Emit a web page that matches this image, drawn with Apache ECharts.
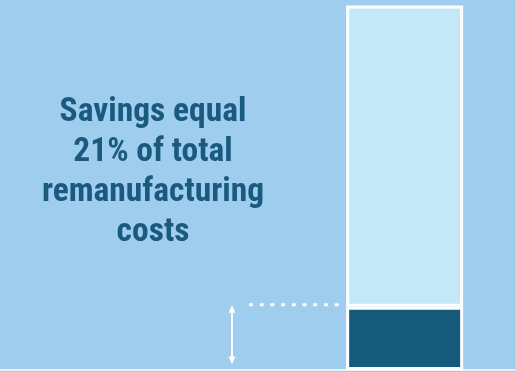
<!DOCTYPE html>
<html>
<head>
<meta charset="utf-8">
<script src="https://cdn.jsdelivr.net/npm/echarts@6/dist/echarts.min.js"></script>
<style>
html,body{margin:0;padding:0;background:#9ecdee;}
#c{width:515px;height:372px;}
</style>
</head>
<body>
<div id="c"></div>
<script>
// Data
const categories = ['', '', '', '', '', 'Total', ''];
const savings = [null, null, null, null, null, 21, null];
const remanufacturingCosts = [null, null, null, null, null, 100, null];
const annotationLines = ['Savings equal', '21% of total', 'remanufacturing', 'costs'];

const BG = '#9ecdee', LIGHT = '#c5e8f9', DARK = '#165a7b', TEXT = '#1a5a7e';
const FONT = "'Roboto Condensed', 'DejaVu Sans Condensed', 'Liberation Sans Narrow', Roboto, sans-serif";

const chart = echarts.init(document.getElementById('c'), null, {renderer: 'canvas'});
chart.setOption({
  backgroundColor: BG,
  animation: false,
  grid: {left: 0, right: 0, top: 5.5, bottom: 2},
  title: {
    text: annotationLines.join('\n'),
    left: 148, top: 87, textAlign: 'center',
    textStyle: {color: TEXT, fontFamily: FONT, fontWeight: 'bold', fontSize: 33.5, lineHeight: 40.3}
  },
  xAxis: {
    type: 'category', data: categories,
    axisLine: {show: true, lineStyle: {color: '#e6f4fc', width: 2}},
    axisTick: {show: false}, axisLabel: {show: false}
  },
  yAxis: {type: 'value', min: 0, max: 121, show: false, splitLine: {show: false}},
  series: [
    {name: 'Savings', type: 'bar', stack: 't', data: savings, barWidth: 117,
     itemStyle: {color: DARK, borderColor: '#ffffff', borderWidth: 3}},
    {name: 'Remanufacturing costs', type: 'bar', stack: 't', data: remanufacturingCosts, barWidth: 117,
     itemStyle: {color: LIGHT, borderColor: '#ffffff', borderWidth: 3}}
  ]
});

const yTop = chart.convertToPixel({yAxisIndex: 0}, savings[5]);
const yBase = chart.convertToPixel({yAxisIndex: 0}, 0);
const barLeft = chart.convertToPixel({xAxisIndex: 0}, 5) - 117 / 2;
const ax = 232;
chart.setOption({
  graphic: [
    {type: 'line', shape: {x1: 249, y1: yTop - 2, x2: barLeft - 1, y2: yTop - 2},
     style: {stroke: '#ffffff', lineWidth: 3, lineDash: [4, 6.7]}},
    {type: 'line', shape: {x1: ax, y1: yTop + 2, x2: ax, y2: yBase - 9},
     style: {stroke: '#ffffff', lineWidth: 2}},
    {type: 'polygon', shape: {points: [[ax, yTop - 1.5], [ax - 3.5, yTop + 6], [ax + 3.5, yTop + 6]]},
     style: {fill: '#ffffff'}},
    {type: 'polygon', shape: {points: [[ax, yBase - 6], [ax - 3.5, yBase - 13.5], [ax + 3.5, yBase - 13.5]]},
     style: {fill: '#ffffff'}}
  ]
});
</script>
</body>
</html>
